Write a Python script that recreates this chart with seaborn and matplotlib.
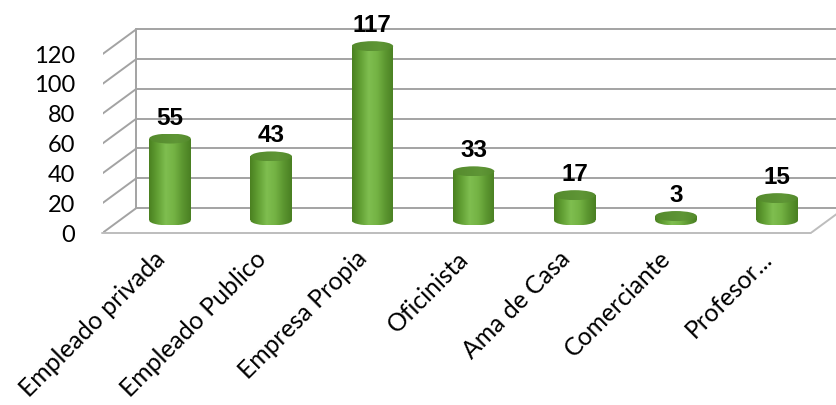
import numpy as np
import pandas as pd
import matplotlib
matplotlib.use("Agg")
import matplotlib.pyplot as plt
import seaborn as sns
from matplotlib.patches import Ellipse, Polygon
from matplotlib.colors import LinearSegmentedColormap
from matplotlib.transforms import ScaledTranslation

categories = ["Empleado privada", "Empleado Publico", "Empresa Propia", "Oficinista",
              "Ama de Casa", "Comerciante", "Profesor..."]
values = [55, 43, 117, 33, 17, 3, 15]
yticks = [0, 20, 40, 60, 80, 100, 120]

sns.set_theme(style="white")
plt.rcParams['font.family'] = ['Lato', 'DejaVu Sans']

W, H = 837, 405
fig = plt.figure(figsize=(W / 100, H / 100), dpi=100)
L, R, B, T = 103, 837, 233, 8
ax = fig.add_axes([L / W, 1 - B / H, (R - L) / W, (B - T) / H])

df = pd.DataFrame({"cat": categories, "val": values})
bw = 0.41
sns.barplot(data=df, x="cat", y="val", width=bw, color="#6aa83a", saturation=1,
            edgecolor="none", ax=ax, zorder=3)

x0px, dxpx = 170, 101.2
y0px, dypx = 220.5, 1.49
ax.set_xlim((L - x0px) / dxpx, (R - x0px) / dxpx)
ax.set_ylim((y0px - B) / dypx, (y0px - T) / dypx)
for s in ax.spines.values():
    s.set_visible(False)
ax.set_xlabel("")
ax.set_ylabel("")
ax.set_yticks([])

# 3D frame (depth offsets)
ddx = 17 / dxpx
ddy = 12.5 / dypx
xl, xr = -0.5, len(categories) - 0.5
gc = "#a3a3a3"
lw = 1.4
for g in yticks:
    ax.plot([xl + ddx, xr + ddx + 1], [g + ddy, g + ddy], color=gc, lw=lw, zorder=1)
    ax.plot([xl - ddx, xl + ddx], [g - ddy, g + ddy], color=gc, lw=lw, zorder=1)
ax.plot([xl - ddx, xl - ddx], [-ddy, yticks[-1] - ddy], color=gc, lw=lw, zorder=1)
ax.plot([xl + ddx, xl + ddx], [ddy, yticks[-1] + ddy], color=gc, lw=lw, zorder=1)
ax.plot([xl - ddx, xr - ddx], [-ddy, -ddy], color="#bdbdbd", lw=lw, zorder=1, clip_on=False)
ax.plot([xr - ddx, xr + ddx], [-ddy, ddy], color="#bdbdbd", lw=lw, zorder=1)

# y tick labels on front plane
off = ax.transData + ScaledTranslation(-27 / 100, -2 / 100, fig.dpi_scale_trans)
for g in yticks:
    ax.text(xl - ddx, g - ddy, str(g), transform=off, ha="right", va="center",
            fontsize=17, color="#000000")

# cylinder shading
body_cmap = LinearSegmentedColormap.from_list(
    "body", ["#4a8020", "#62a034", "#7fbe50", "#74b344", "#5b9630", "#4a7f22"])
top_cmap = LinearSegmentedColormap.from_list(
    "top", ["#558a2c", "#5a9032", "#5f9636", "#548a2c"])
grad = np.linspace(0, 1, 256).reshape(1, -1)
eh = 10 / dypx

for p in list(ax.patches):
    x = p.get_x()
    w = p.get_width()
    h = p.get_height()
    cx = x + w / 2
    p.set_visible(False)
    bot = Ellipse((cx, 0), w, eh, facecolor="none", edgecolor="none")
    ax.add_patch(bot)
    body = Polygon([(x, 0), (x + w, 0), (x + w, h), (x, h)],
                   closed=True, facecolor="none", edgecolor="none")
    ax.add_patch(body)
    im = ax.imshow(grad, cmap=body_cmap, aspect="auto",
                   extent=[x, x + w, 0, h], zorder=3, interpolation="bilinear")
    im.set_clip_path(body)
    im2 = ax.imshow(grad, cmap=body_cmap, aspect="auto",
                    extent=[x, x + w, -eh / 2, eh / 2], zorder=3, interpolation="bilinear")
    im2.set_clip_path(bot)
    top = Ellipse((cx, h), w, eh, facecolor="none", edgecolor="none")
    ax.add_patch(top)
    im3 = ax.imshow(grad, cmap=top_cmap, aspect="auto",
                    extent=[x, x + w, h - eh / 2, h + eh / 2], zorder=4,
                    interpolation="bilinear")
    im3.set_clip_path(top)

ax.set_xlim((L - x0px) / dxpx, (R - x0px) / dxpx)
ax.set_ylim((y0px - B) / dypx, (y0px - T) / dypx)

# data labels (baseline ~14 px above the top-ellipse centre)
lab_tr = ax.transData + ScaledTranslation(0, 14 / 100, fig.dpi_scale_trans)
for i, v in enumerate(values):
    ax.text(i, v, str(v), transform=lab_tr, ha="center", va="baseline",
            fontsize=17.5, fontweight="bold", family=["Liberation Sans", "DejaVu Sans"],
            color="#000000", zorder=6, clip_on=False)

ax.tick_params(axis="x", length=0, pad=10)
ax.set_xticks(range(len(categories)))
ax.set_xticklabels(categories, rotation=45, ha="right", va="top",
                   rotation_mode="anchor", fontsize=17.8, color="#000000")
shift = ScaledTranslation(-17 / 100, 0, fig.dpi_scale_trans)
for lbl in ax.get_xticklabels():
    lbl.set_transform(lbl.get_transform() + shift)

fig.savefig("out.png", dpi=100)
